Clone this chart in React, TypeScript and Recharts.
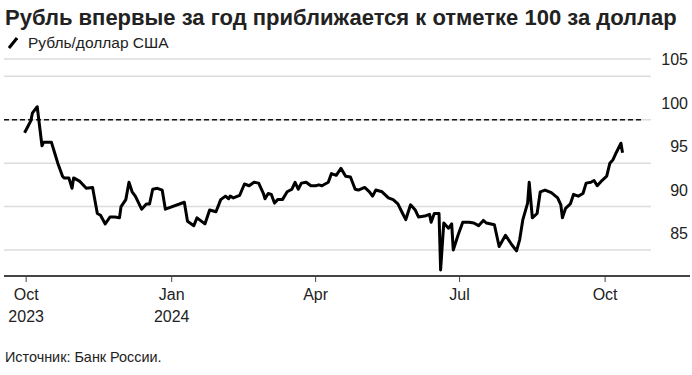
import React from "react";
import { LineChart, Line, XAxis, YAxis, CartesianGrid, ReferenceLine } from "recharts";

document.body.style.margin = "0";

const dates = [
  "2023-09-30", "2023-10-02", "2023-10-04", "2023-10-05", "2023-10-08", "2023-10-09", "2023-10-11",
  "2023-10-12", "2023-10-17", "2023-10-19", "2023-10-21", "2023-10-24", "2023-10-25", "2023-10-28",
  "2023-10-30", "2023-10-31", "2023-11-04", "2023-11-08", "2023-11-12", "2023-11-15", "2023-11-17",
  "2023-11-20", "2023-11-23", "2023-11-26", "2023-11-29", "2023-11-30", "2023-12-03", "2023-12-05",
  "2023-12-07", "2023-12-09", "2023-12-13", "2023-12-16", "2023-12-18", "2023-12-20", "2023-12-23",
  "2023-12-26", "2023-12-28", "2024-01-09", "2024-01-11", "2024-01-15", "2024-01-17", "2024-01-22",
  "2024-01-25", "2024-01-29", "2024-02-01", "2024-02-04", "2024-02-06", "2024-02-07", "2024-02-09",
  "2024-02-13", "2024-02-16", "2024-02-19", "2024-02-22", "2024-02-25", "2024-02-28", "2024-02-29",
  "2024-03-02", "2024-03-04", "2024-03-06", "2024-03-08", "2024-03-11", "2024-03-14", "2024-03-17",
  "2024-03-19", "2024-03-21", "2024-03-23", "2024-03-26", "2024-03-29", "2024-04-01", "2024-04-03",
  "2024-04-05", "2024-04-09", "2024-04-11", "2024-04-14", "2024-04-17", "2024-04-20", "2024-04-23",
  "2024-04-26", "2024-04-28", "2024-05-02", "2024-05-05", "2024-05-07", "2024-05-09", "2024-05-13",
  "2024-05-17", "2024-05-20", "2024-05-23", "2024-05-26", "2024-05-28", "2024-05-31", "2024-06-03",
  "2024-06-05", "2024-06-09", "2024-06-12", "2024-06-13", "2024-06-15", "2024-06-18", "2024-06-19",
  "2024-06-21", "2024-06-24", "2024-06-26", "2024-06-27", "2024-06-30", "2024-07-03", "2024-07-07",
  "2024-07-10", "2024-07-13", "2024-07-16", "2024-07-18", "2024-07-23", "2024-07-26", "2024-07-30",
  "2024-08-03", "2024-08-06", "2024-08-08", "2024-08-10", "2024-08-13", "2024-08-14", "2024-08-16",
  "2024-08-19", "2024-08-21", "2024-08-24", "2024-08-28", "2024-09-01", "2024-09-03", "2024-09-04",
  "2024-09-06", "2024-09-09", "2024-09-11", "2024-09-14", "2024-09-17", "2024-09-19", "2024-09-22",
  "2024-09-24", "2024-09-26", "2024-09-29", "2024-10-02", "2024-10-04", "2024-10-06", "2024-10-08",
  "2024-10-11", "2024-10-12",
];

const rubPerUsd = [
  98.5, 99.2, 99.9, 100.8, 101.5, 100.0, 97.0,
  97.4, 97.4, 96.2, 95.0, 93.5, 93.3, 93.3,
  92.1, 93.3, 92.9, 92.1, 92.2, 89.2, 89.0,
  88.0, 88.8, 88.8, 88.7, 90.0, 90.8, 92.8,
  91.7, 91.2, 89.7, 90.3, 90.3, 92.0, 92.1,
  91.9, 89.7, 90.5, 88.3, 87.8, 88.7, 88.0,
  89.6, 89.4, 90.8, 91.2, 90.9, 91.2, 91.0,
  91.3, 92.6, 92.4, 92.8, 92.7, 91.5, 90.9,
  91.5, 91.4, 90.4, 90.8, 90.8, 91.7, 92.0,
  92.8, 92.0, 92.7, 92.8, 92.4, 92.4, 92.5,
  92.4, 92.8, 93.8, 93.6, 94.4, 93.5, 93.4,
  92.0, 91.9, 92.2, 91.7, 91.2, 91.9, 91.7,
  91.0, 90.8, 90.3, 89.2, 88.5, 90.2, 89.6,
  88.8, 88.9, 89.1, 88.2, 89.2, 89.2, 82.7,
  88.1, 87.5, 88.0, 85.0, 86.7, 88.2, 88.2,
  88.1, 87.8, 88.4, 88.1, 87.9, 85.4, 86.7,
  85.6, 84.9, 86.2, 88.5, 90.4, 92.8, 88.7,
  89.2, 91.7, 91.9, 91.6, 91.0, 90.2, 88.7,
  89.8, 90.3, 91.4, 91.2, 91.5, 92.7, 92.8,
  93.0, 92.4, 93.0, 93.5, 95.0, 95.4, 96.2,
  97.3, 96.2,
];

const tickDates = ["2023-10-01", "2024-01-01", "2024-04-01", "2024-07-01", "2024-10-01"];
const tickMonths = ["Oct", "Jan", "Apr", "Jul", "Oct"];
const tickYears = ["2023", "2024", "", "", ""];
const yTicks = [85, 90, 95, 100, 105];

const toTime = (d: string) => Date.parse(d + "T00:00:00Z");

const data = dates.map((d, i) => ({ t: toTime(d), value: rubPerUsd[i] }));
const xDomain = [toTime("2023-09-17"), toTime("2024-10-30")];
const xTicks = tickDates.map(toTime);
const refEnd = toTime("2024-10-25");

const FONT = '"Liberation Sans", Arial, Helvetica, sans-serif';
const TEXT = "#222";

function XTick(props: any) {
  const { x, y, payload } = props;
  const i = xTicks.indexOf(payload.value);
  return (
    <g>
      <text x={x} y={y + 16} textAnchor="middle" fontSize={16} fill={TEXT} fontFamily={FONT}>
        {tickMonths[i]}
      </text>
      {tickYears[i] && (
        <text x={x} y={y + 38} textAnchor="middle" fontSize={16} fill={TEXT} fontFamily={FONT}>
          {tickYears[i]}
        </text>
      )}
    </g>
  );
}

function YTick(props: any) {
  const { y, payload } = props;
  return (
    <text x={688} y={y - 11} textAnchor="end" fontSize={16} fill={TEXT} fontFamily={FONT}>
      {payload.value}
    </text>
  );
}

export default function App() {
  return (
    <div style={{ position: "relative", width: 692, height: 375, background: "#fff", fontFamily: FONT, color: TEXT }}>
      <div style={{ position: "absolute", left: 5, top: 5, fontSize: 22, fontWeight: 700, whiteSpace: "nowrap" }}>
        Рубль впервые за год приближается к отметке 100 за доллар
      </div>
      <div style={{ position: "absolute", left: 8, top: 34, fontSize: 15.5, whiteSpace: "nowrap", display: "flex", alignItems: "center" }}>
        <svg width={10} height={12} style={{ marginRight: 10 }}>
          <line x1={1} y1={11} x2={9} y2={1} stroke="#000" strokeWidth={3} />
        </svg>
        Рубль/доллар США
      </div>
      <div style={{ position: "absolute", left: 0, top: 0 }}>
        <LineChart width={692} height={340} data={data} margin={{ top: 59, right: 0, left: 4, bottom: 0 }}>
          <CartesianGrid horizontal vertical={false} stroke="#dcdcdc" strokeWidth={1.5} />
          <XAxis
            dataKey="t"
            type="number"
            scale="linear"
            domain={xDomain}
            ticks={xTicks}
            tick={XTick}
            tickSize={6}
            axisLine={false}
            tickLine={{ stroke: "#444" }}
            height={64}
            interval={0}
          />
          <YAxis
            orientation="right"
            domain={[82, 107]}
            ticks={yTicks}
            tick={YTick}
            axisLine={false}
            tickLine={false}
            width={41}
            interval={0}
          />
          <ReferenceLine
            segment={[{ x: xDomain[0], y: 100 }, { x: refEnd, y: 100 }]}
            stroke="#111"
            strokeWidth={1.3}
            strokeDasharray="5 3"
          />
          <Line
            dataKey="value"
            type="linear"
            stroke="#000"
            strokeWidth={3}
            dot={false}
            strokeLinejoin="round"
            isAnimationActive={false}
          />
        </LineChart>
      </div>
      <div style={{ position: "absolute", left: 4, top: 275, width: 686, height: 1.5, background: "#444" }} />
      <div style={{ position: "absolute", left: 5, top: 349, fontSize: 14.4, whiteSpace: "nowrap" }}>
        Источник: Банк России.
      </div>
    </div>
  );
}
